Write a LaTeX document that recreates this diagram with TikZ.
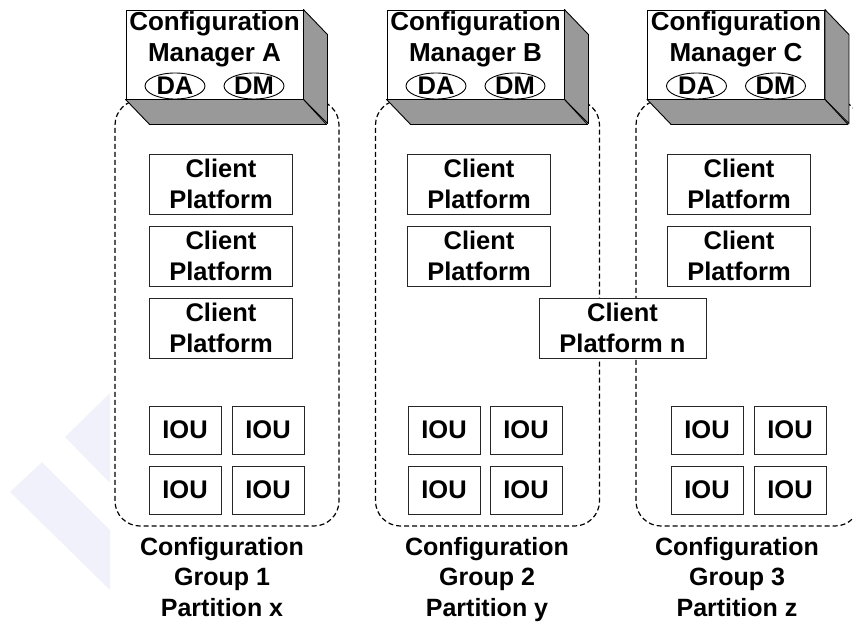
\documentclass[tikz,border=0pt]{standalone}
\usepackage{fontspec}
\setmainfont{Liberation Sans}
\usetikzlibrary{shapes.geometric}
\definecolor{facegray}{RGB}{153,153,153}
\definecolor{wmark}{RGB}{241,241,251}
\begin{document}
\begin{tikzpicture}[x=1pt,y=-1pt,
  every node/.style={font=\fontsize{25.5}{30.5}\selectfont\bfseries, inner sep=0pt, text=black},
  front/.style={draw=black, line width=0.9pt, fill=white, minimum width=177pt, minimum height=89pt},
  face/.style={draw=black, line width=0.9pt, fill=facegray, line join=round},
  mtext/.style={align=center, anchor=north, font=\fontsize{26}{31}\selectfont\bfseries},
  oval/.style={ellipse, draw=black, line width=0.9pt, minimum width=60pt, minimum height=26pt},
  grp/.style={draw=black, line width=1.2pt, dash pattern=on 5pt off 3pt, rounded corners=25pt, minimum width=224pt, minimum height=426pt},
  client/.style={draw=black!85, line width=0.9pt, fill=white, align=center, minimum width=143pt, minimum height=60pt},
  iou/.style={draw=black!85, line width=0.9pt, fill=white, minimum width=72pt, minimum height=48pt},
  lbl/.style={align=center, anchor=north, font=\fontsize{25}{30.5}\selectfont\bfseries}
]
\useasboundingbox (0,0) rectangle (853,626);

% faint watermark
\fill[wmark] (110,393) -- (65,437) -- (110,483) -- cycle;
\fill[wmark] (10,492) -- (42,462) -- (110,530) -- (110,590) -- cycle;

% configuration groups
\node[grp] (g1) at (227,313) {};
\node[grp] (g2) at (487.5,313) {};
\node[grp] (g3) at (748,313) {};

% configuration managers
\foreach \n/\x in {A/214.5, B/475.5, C/736} {
  \node[front] (m\n) at (\x,54.5) {};
  \draw[face] (m\n.north east) -- ++(24,25) -- ++(0,89) -- (m\n.south east) -- cycle;
  \draw[face] (m\n.south west) -- ++(24,25) -- ++(177,0) -- (m\n.south east) -- cycle;
  \node[mtext] (m\n t) at (\x,11) {Configuration\\Manager \n};
  \node[oval] (m\n da) at (\x-39.5,86) {DA};
  \node[oval] (m\n dm) at (\x+39.5,86) {DM};
}

% client platforms
\foreach \g/\x in {1/221, 2/479, 3/739} {
  \node[client] (c\g a) at (\x,184) {Client\\Platform};
  \node[client] (c\g b) at (\x,256) {Client\\Platform};
}
\node[client] (c1c) at (221,328) {Client\\Platform};
\node[client, minimum width=167pt] (cn) at (622.5,328) {Client\\Platform n};

% IOUs
\foreach \g/\xa/\xb in {1/185/268, 2/444/526, 3/707/790} {
  \node[iou] (i\g a) at (\xa,430) {IOU};
  \node[iou] (i\g b) at (\xb,430) {IOU};
  \node[iou] (i\g c) at (\xa,490) {IOU};
  \node[iou] (i\g d) at (\xb,490) {IOU};
}

% group labels
\node[lbl] (l1) at (222,537) {Configuration\\Group 1\\Partition x};
\node[lbl] (l2) at (487,537) {Configuration\\Group 2\\Partition y};
\node[lbl] (l3) at (737,537) {Configuration\\Group 3\\Partition z};
\end{tikzpicture}
\end{document}
